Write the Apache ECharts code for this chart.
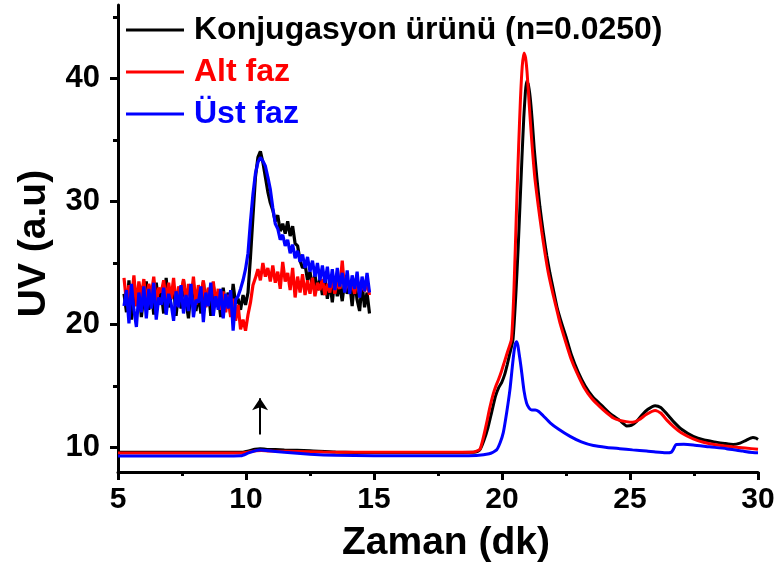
<!DOCTYPE html>
<html>
<head>
<meta charset="utf-8">
<script src="https://cdn.jsdelivr.net/npm/echarts@6/dist/echarts.min.js"></script>
<style>
  html, body { margin: 0; padding: 0; background: #fff; }
  #chart { width: 779px; height: 575px; }
</style>
</head>
<body>
<div id="chart"></div>
<script>
// Series names
const seriesNames = ['Konjugasyon ürünü (n=0.0250)', 'Alt faz', 'Üst faz'];
const seriesColors = ['#000000', '#ff0000', '#0000ff'];

// Axis ticks
const yMajorTicks = [10, 20, 30, 40];
const yMinorTicks = [15, 25, 35, 45];

// Full chromatograms: [time (dk), UV (a.u)]
const konjugasyon = [
  [5, 9.6], [6, 9.6], [7, 9.6], [8, 9.6], [9, 9.6], [9.8, 9.6], [10.1, 9.72], [10.35, 9.85],
  [10.55, 9.9], [10.8, 9.86], [11.5, 9.8], [12.5, 9.72], [13.5, 9.62], [15, 9.58], [17, 9.58],
  [18.9, 9.6], [19.05, 9.68], [19.15, 9.85], [19.3, 10.6], [19.45, 11.6], [19.6, 12.9],
  [19.75, 14.2], [19.88, 14.9], [19.99, 15.3], [20.1, 15.9], [20.2, 16.7], [20.3, 17.6],
  [20.43, 18.8], [20.55, 22.8], [20.63, 26.2], [20.7, 29.6], [20.78, 33.6], [20.85, 36.8],
  [20.91, 38.8], [20.96, 39.8], [21.02, 39.6], [21.1, 38.5], [21.18, 36.6], [21.26, 34.3],
  [21.36, 32.0], [21.48, 29.6], [21.62, 27.4], [21.75, 25.6], [21.87, 24.2], [22.0, 22.9],
  [22.15, 21.4], [22.33, 20.1], [22.5, 19.0], [22.7, 17.6], [22.98, 16.1], [23.25, 15.0],
  [23.55, 14.1], [23.9, 13.4], [24.25, 12.7], [24.6, 12.2], [24.87, 11.75], [25.05, 11.8],
  [25.25, 12.1], [25.45, 12.6], [25.7, 13.1], [25.98, 13.4], [26.2, 13.25], [26.45, 12.7],
  [26.7, 12.1], [27.0, 11.5], [27.47, 10.9], [27.9, 10.6], [28.3, 10.45], [28.7, 10.32],
  [29.03, 10.24], [29.3, 10.35], [29.55, 10.6], [29.8, 10.8], [29.92, 10.75], [30, 10.65]
];
const altFaz = [
  [5, 9.55], [6, 9.55], [7, 9.55], [8, 9.55], [9, 9.55], [9.8, 9.55], [10.1, 9.62], [10.4, 9.72],
  [10.6, 9.74], [11, 9.7], [12, 9.66], [13, 9.62], [15, 9.6], [17, 9.6], [18.8, 9.6],
  [18.98, 9.68], [19.14, 9.85], [19.27, 10.8], [19.4, 12.0], [19.52, 13.2], [19.65, 14.3],
  [19.76, 15.0], [19.86, 15.5], [19.98, 16.2], [20.1, 17.0], [20.22, 17.8], [20.37, 18.8],
  [20.47, 23.0], [20.57, 29.6], [20.65, 34.5], [20.72, 38.3], [20.79, 41.0], [20.86, 42.1],
  [20.92, 41.7], [20.98, 40.5], [21.06, 38.0], [21.16, 35.0], [21.28, 32.0], [21.42, 29.6],
  [21.55, 27.6], [21.68, 25.8], [21.81, 24.2], [22.0, 22.4], [22.13, 21.3], [22.27, 20.1],
  [22.5, 18.5], [22.7, 17.2], [22.92, 16.1], [23.2, 14.9], [23.5, 14.0], [23.83, 13.3],
  [24.1, 12.8], [24.35, 12.4], [24.6, 12.2], [24.85, 12.1], [25.1, 12.05], [25.35, 12.25],
  [25.65, 12.7], [25.98, 13.0], [26.2, 12.8], [26.45, 12.2], [26.7, 11.7], [27.0, 11.2],
  [27.47, 10.7], [27.9, 10.4], [28.4, 10.2], [29.0, 10.05], [29.5, 9.95], [30, 9.85]
];
const ustFaz = [
  [5, 9.3], [6, 9.3], [7, 9.3], [8, 9.3], [9, 9.3], [9.8, 9.32], [10.1, 9.55], [10.35, 9.72],
  [10.55, 9.78], [10.8, 9.74], [11.5, 9.6], [12.5, 9.45], [13.5, 9.36], [15, 9.32], [17, 9.32],
  [19.0, 9.35], [19.5, 9.48], [19.79, 9.8], [19.93, 10.4], [20.05, 11.2], [20.18, 12.8],
  [20.31, 14.7], [20.4, 16.5], [20.47, 17.8], [20.52, 18.4], [20.57, 18.6], [20.62, 18.3],
  [20.67, 17.6], [20.72, 16.9], [20.77, 16.1], [20.86, 14.6], [20.96, 13.6], [21.06, 13.2],
  [21.16, 13.05], [21.3, 13.05], [21.42, 12.95], [21.6, 12.6], [21.88, 12.0], [22.2, 11.5],
  [22.66, 10.9], [23.1, 10.45], [23.57, 10.15], [24.1, 10.0], [24.6, 9.9], [25.1, 9.8],
  [25.65, 9.7], [26.0, 9.62], [26.4, 9.56], [26.62, 9.62], [26.72, 9.95], [26.8, 10.24],
  [27.1, 10.25], [27.47, 10.2], [28.1, 10.05], [28.77, 9.9], [29.4, 9.7], [29.95, 9.56],
  [30, 9.56]
];

// Magnified view of the 5–15 dk region (drawn at display scale)
const insetStart = 5.0;
const insetStep = 0.1;
const insetKonjugasyon = [
  22.5, 21.0, 23.6, 20.4, 22.8, 21.5, 23.2, 20.6, 22.4, 23.5,
  21.2, 22.9, 20.8, 23.4, 21.7, 22.6, 20.9, 23.8, 21.4, 22.2,
  23.1, 20.7, 22.7, 21.3, 23.6, 21.9, 20.5, 22.8, 23.3, 21.1,
  22.4, 20.9, 23.5, 21.6, 22.9, 20.7, 23.2, 21.8, 22.3, 20.6,
  23.0, 21.4, 22.6, 20.8, 23.3, 21.7, 22.1, 21.2, 22.4, 21.6,
  22.6, 25.5, 28.8, 32.0, 33.6, 34.1, 33.2, 32.0, 30.8, 29.9,
  29.3, 28.4, 28.9, 27.6, 28.2, 27.4, 28.4, 27.2, 28.0, 26.6,
  26.4, 25.2, 24.6, 24.9, 23.6, 24.3, 23.1, 24.0, 22.8, 23.7,
  22.4, 23.9, 22.1, 23.5, 21.8, 23.8, 22.3, 23.2, 21.9, 23.6,
  22.5, 23.4, 21.5, 23.7, 22.0, 21.1, 23.3, 21.4, 22.6, 20.9
];
const insetAltFaz = [
  23.8, 21.8, 23.2, 22.0, 24.0, 21.5, 23.5, 22.2, 23.7, 21.6,
  23.3, 22.4, 23.9, 21.7, 23.0, 22.6, 23.6, 21.9, 23.4, 22.1,
  23.8, 21.5, 23.1, 22.5, 23.7, 21.8, 23.3, 22.0, 23.9, 21.6,
  23.2, 22.3, 23.6, 21.4, 23.0, 22.2, 23.5, 21.7, 22.9, 21.2,
  22.7, 21.0, 22.4, 20.6, 22.1, 20.3, 21.6, 19.6, 20.4, 19.5,
  20.8, 21.8, 23.2, 23.8, 24.5, 23.6, 25.0, 23.9, 24.6, 23.5,
  24.8, 23.4, 24.3, 22.9, 25.1, 23.5, 24.2, 22.8, 24.6, 22.2,
  23.9, 22.6, 24.1, 22.4, 23.6, 22.5, 23.8, 22.3, 23.4, 22.8,
  23.7, 22.4, 23.3, 22.6, 24.0, 22.5, 23.5, 22.9, 25.2, 22.7,
  23.6, 22.8, 23.4, 22.5, 23.8, 22.6, 23.3, 22.7, 23.5, 22.4
];
const insetUstFaz = [
  21.5, 22.8, 20.1, 23.3, 21.2, 19.8, 22.6, 21.0, 23.1, 20.5,
  22.9, 21.3, 23.4, 20.4, 22.2, 21.6, 23.0, 20.8, 22.5, 21.7,
  20.3, 22.7, 21.4, 23.2, 20.9, 22.4, 21.1, 23.3, 20.6, 22.0,
  21.8, 23.1, 20.2, 22.6, 21.5, 23.4, 20.7, 22.3, 21.2, 22.9,
  20.5, 22.5, 21.3, 22.8, 19.5, 22.0, 22.3, 22.9, 23.6, 24.5,
  25.8, 28.4, 30.6, 32.3, 33.2, 33.6, 33.3, 32.9, 32.0, 31.0,
  29.5, 28.2, 27.8, 26.9, 27.3, 26.4, 26.9, 25.8, 26.5, 25.4,
  26.0, 25.1, 25.7, 24.6, 25.5, 24.3, 25.2, 23.9, 25.0, 23.6,
  24.8, 23.4, 24.7, 23.0, 24.5, 22.8, 24.6, 23.1, 24.2, 22.6,
  24.4, 22.5, 24.0, 22.9, 24.3, 22.2, 23.9, 22.7, 24.2, 22.6
];

// Arrow marking the small peak: [time, start UV, end UV]
const arrowMark = [10.55, 11.05, 14.0];

const FONT = '"Liberation Sans", Arial, sans-serif';

function withTime(values) {
  return values.map((v, i) => [+(insetStart + i * insetStep).toFixed(2), v]);
}

const chart = echarts.init(document.getElementById('chart'), null, { renderer: 'canvas' });

const mainLine = (name, data, color, extra) => Object.assign({
  name, type: 'line', data, xAxisIndex: 0, yAxisIndex: 0,
  showSymbol: false, smooth: 0.2,
  lineStyle: { color, width: 3 }, itemStyle: { color },
  silent: true, animation: false, z: 3
}, extra || {});

const insetLine = (name, data, color) => ({
  name, type: 'line', data: withTime(data), xAxisIndex: 1, yAxisIndex: 2,
  showSymbol: false, lineStyle: { color, width: 3.2 }, itemStyle: { color },
  silent: true, animation: false, z: 4
});

const option = {
  backgroundColor: '#ffffff',
  animation: false,
  grid: [
    { left: 118, right: 21, top: 5, bottom: 103 },
    { left: 124, width: 248, top: 5, bottom: 103 }
  ],
  legend: {
    orient: 'vertical', left: 121, top: 9,
    icon: 'rect', itemWidth: 58, itemHeight: 3, itemGap: 10,
    selectedMode: false,
    textStyle: { fontSize: 32, fontWeight: 'bold', fontFamily: FONT, padding: [0, 0, 0, 5] },
    data: seriesNames.map((n, i) => ({ name: n, textStyle: { color: seriesColors[i] } }))
  },
  xAxis: [
    {
      type: 'value', gridIndex: 0, min: 5, max: 30, interval: 5,
      name: 'Zaman (dk)', nameLocation: 'middle', nameGap: 52,
      nameTextStyle: { fontSize: 39, fontWeight: 'bold', fontFamily: FONT, color: '#000', padding: [0, 0, 0, 16] },
      axisLine: { show: true, lineStyle: { color: '#000', width: 3 } },
      axisTick: { show: true, length: 8, lineStyle: { color: '#000', width: 3 } },
      minorTick: { show: true, splitNumber: 2, length: 4, lineStyle: { color: '#000', width: 3 } },
      axisLabel: { fontSize: 30, fontWeight: 'bold', fontFamily: FONT, color: '#000', margin: 13 },
      splitLine: { show: false }
    },
    { type: 'value', gridIndex: 1, min: 5, max: 15, show: false }
  ],
  yAxis: [
    {
      type: 'value', gridIndex: 0, min: 8, max: 46,
      name: 'UV (a.u)', nameLocation: 'middle', nameGap: 64, nameRotate: 90,
      nameTextStyle: { fontSize: 39, fontWeight: 'bold', fontFamily: FONT, color: '#000', padding: [0, 10, 0, 0] },
      axisLine: { show: true, lineStyle: { color: '#000', width: 3 } },
      axisTick: { show: true, length: 8, customValues: yMajorTicks, lineStyle: { color: '#000', width: 3 } },
      axisLabel: { customValues: yMajorTicks, fontSize: 31, fontWeight: 'bold', fontFamily: FONT, color: '#000', margin: 18 },
      splitLine: { show: false }
    },
    {
      type: 'value', gridIndex: 0, min: 8, max: 46, position: 'left',
      axisLine: { show: false },
      axisTick: { show: true, length: 5, customValues: yMinorTicks, lineStyle: { color: '#000', width: 3 } },
      axisLabel: { show: false },
      splitLine: { show: false }
    },
    { type: 'value', gridIndex: 1, min: 8, max: 46, show: false }
  ],
  series: [
    mainLine(seriesNames[0], konjugasyon, seriesColors[0], {
      markLine: {
        silent: true, animation: false,
        symbol: ['none', 'arrow'], symbolSize: 12,
        lineStyle: { color: '#000', width: 2, type: 'solid' },
        label: { show: false },
        emphasis: { disabled: true },
        data: [[{ coord: [arrowMark[0], arrowMark[1]] }, { coord: [arrowMark[0], arrowMark[2]] }]]
      }
    }),
    mainLine(seriesNames[1], altFaz, seriesColors[1]),
    mainLine(seriesNames[2], ustFaz, seriesColors[2]),
    insetLine(seriesNames[0], insetKonjugasyon, seriesColors[0]),
    insetLine(seriesNames[1], insetAltFaz, seriesColors[1]),
    insetLine(seriesNames[2], insetUstFaz, seriesColors[2])
  ]
};

chart.setOption(option);
</script>
</body>
</html>
